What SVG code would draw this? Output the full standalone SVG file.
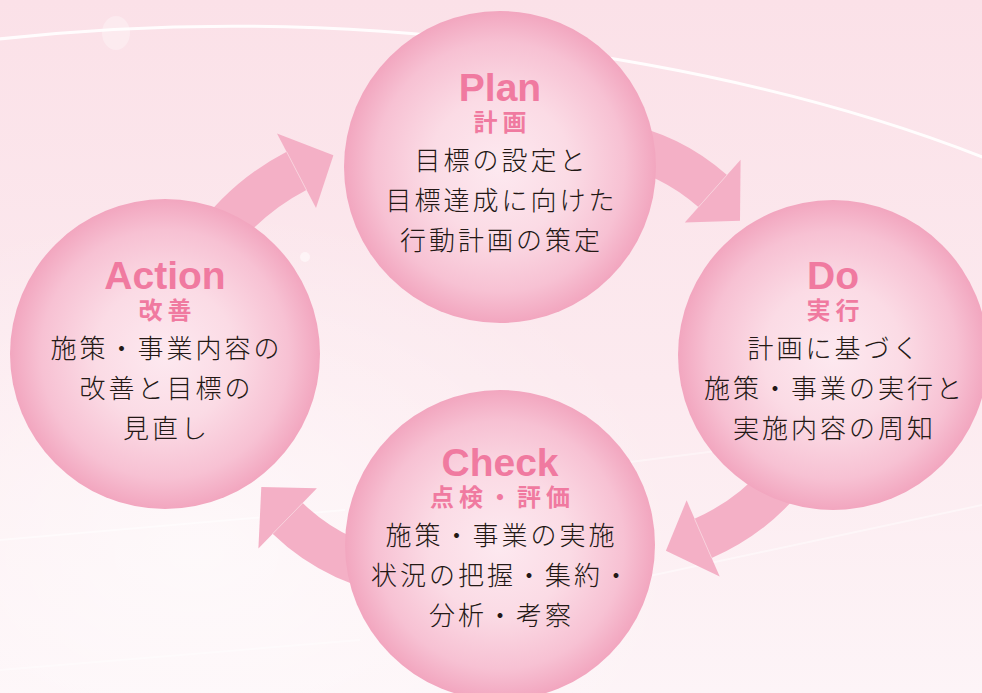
<svg xmlns="http://www.w3.org/2000/svg" width="982" height="693" viewBox="0 0 982 693">
<defs>
<linearGradient id="bg" x1="0" y1="0" x2="0" y2="1">
<stop offset="0" stop-color="#fbe1e8"/>
<stop offset="0.55" stop-color="#fceaef"/>
<stop offset="1" stop-color="#fdf4f7"/>
</linearGradient>
<radialGradient id="glow" cx="0.2" cy="0.8" r="0.5">
<stop offset="0" stop-color="#ffffff" stop-opacity="0.6"/>
<stop offset="1" stop-color="#ffffff" stop-opacity="0"/>
</radialGradient>
<radialGradient id="ball" cx="0.5" cy="0.5" r="0.5">
<stop offset="0" stop-color="#fde9f0"/>
<stop offset="0.45" stop-color="#fbdbe5"/>
<stop offset="0.8" stop-color="#f7c1d3"/>
<stop offset="1" stop-color="#f2a6bf"/>
</radialGradient>
<style>
.ball{fill:url(#ball)}
.arrow{fill:#f4b0c6}
.seam{stroke:#f9d0dc;stroke-width:1;fill:none}
.title{font-family:"Liberation Sans",Arial,sans-serif;font-weight:bold;font-size:39px;fill:#f07aa0;text-anchor:middle}
.sub{font-family:"Noto Sans CJK JP",sans-serif;font-weight:bold;font-size:24px;fill:#f07aa0;text-anchor:middle;letter-spacing:5px}
.body{font-family:"Noto Sans CJK JP",sans-serif;font-weight:300;font-size:26px;fill:#231815;text-anchor:middle;letter-spacing:3px}
.bgline{stroke:#ffffff;fill:none}
</style>
</defs>
<g id="background">
<rect width="982" height="693" fill="url(#bg)"/>
<rect width="982" height="693" fill="url(#glow)"/>
<path class="bgline" d="M -10,40 Q 250,10 520,45 T 990,160" stroke-width="3" opacity="0.9"/>
<ellipse cx="116" cy="33" rx="14" ry="17" fill="#ffffff" opacity="0.3"/>
<path class="bgline" d="M 0,540 L 345,510" stroke-width="2" opacity="0.5"/>
<path class="bgline" d="M 0,670 L 360,640" stroke-width="2" opacity="0.4"/>
<path class="bgline" d="M 640,578 L 982,505" stroke-width="2" opacity="0.45"/>
<path class="bgline" d="M 630,462 L 740,448" stroke-width="2" opacity="0.4"/>
<circle cx="305" cy="257" r="5" fill="#ffffff" opacity="0.5"/>
</g>
<g id="connectors">
<g id="arrow-plan-do">
<path class="arrow" d="M 618.4,122.4 A 221 221 0 0 1 727,175 L 698.4,207.1 A 178 178 0 0 0 610.9,164.7 Z"/>
<polygon class="arrow" points="740.6,159.7 740,220.8 684.8,222.4"/>
<line class="seam" x1="727" y1="175" x2="698.4" y2="207.1"/>
</g>
<g id="arrow-do-check">
<path class="arrow" d="M 799.9,492.3 A 240 240 0 0 1 711.7,558.1 L 694.5,518.7 A 197 197 0 0 0 766.9,464.6 Z"/>
<polygon class="arrow" points="719.7,576.4 665.9,550.7 686.6,500.3"/>
<line class="seam" x1="711.7" y1="558.1" x2="694.5" y2="518.7"/>
</g>
<g id="arrow-check-action">
<path class="arrow" d="M 410.3,596.8 A 225.7 225.7 0 0 1 272.6,533.8 L 302.7,503 A 182.7 182.7 0 0 0 414.1,554 Z"/>
<polygon class="arrow" points="258.4,548.5 261.3,487.1 316.9,488.3"/>
<line class="seam" x1="272.6" y1="533.8" x2="302.7" y2="503"/>
</g>
<g id="arrow-action-plan">
<path class="arrow" d="M 192.6,234.1 A 263 263 0 0 1 286.6,151.7 L 306.4,189.9 A 220 220 0 0 0 227.8,258.8 Z"/>
<polygon class="arrow" points="277,133.5 333.4,155.3 316,208"/>
<line class="seam" x1="286.6" y1="151.7" x2="306.4" y2="189.9"/>
</g>
</g>
<g id="node-plan">
<circle class="ball" cx="500" cy="167" r="156"/>
<text class="title" x="500" y="101">Plan</text>
<text class="sub" x="502.5" y="131">計画</text>
<text class="body" x="501.5" y="170">目標の設定と</text>
<text class="body" x="501.5" y="210">目標達成に向けた</text>
<text class="body" x="501.5" y="250">行動計画の策定</text>
</g>
<g id="node-do">
<circle class="ball" cx="833" cy="355" r="155"/>
<text class="title" x="833" y="289">Do</text>
<text class="sub" x="835.5" y="319">実行</text>
<text class="body" x="834.5" y="358">計画に基づく</text>
<text class="body" x="834.5" y="398">施策・事業の実行と</text>
<text class="body" x="834.5" y="438">実施内容の周知</text>
</g>
<g id="node-action">
<circle class="ball" cx="165" cy="354" r="155"/>
<text class="title" x="165" y="289">Action</text>
<text class="sub" x="167.5" y="319">改善</text>
<text class="body" x="166.5" y="358">施策・事業内容の</text>
<text class="body" x="166.5" y="398">改善と目標の</text>
<text class="body" x="166.5" y="438">見直し</text>
</g>
<g id="node-check">
<circle class="ball" cx="500" cy="545" r="155"/>
<text class="title" x="500" y="476">Check</text>
<text class="sub" x="502.5" y="506">点検・評価</text>
<text class="body" x="501.5" y="545">施策・事業の実施</text>
<text class="body" x="501.5" y="585">状況の把握・集約・</text>
<text class="body" x="501.5" y="625">分析・考察</text>
</g>
</svg>
